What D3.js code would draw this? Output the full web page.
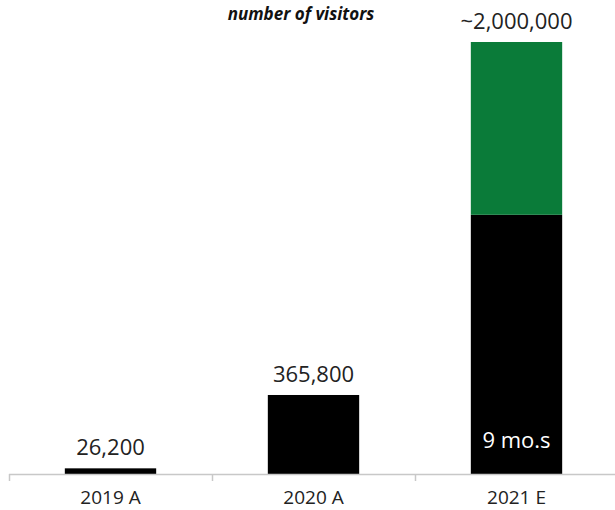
<!DOCTYPE html>
<html>
<head>
<meta charset="utf-8">
<script src="https://cdn.jsdelivr.net/npm/d3@7"></script>
<style>
  html, body { margin: 0; padding: 0; background: #fff; }
  svg { display: block; }
  text { font-family: "Open Sans", sans-serif; }
</style>
</head>
<body>
<div id="chart"></div>
<script>
var w = 615,
	h = 510;

// data
var categories = ["2019 A", "2020 A", "2021 E"];
var baseValues = [26200, 365800, 1200000];   // black part (actual / 9 months)
var extraValues = [0, 0, 800000];            // green part (rest of year estimate)
var totalLabels = ["26,200", "365,800", "~2,000,000"];
var innerLabels = ["", "", "9 mo.s"];

var svg = d3.select("#chart").append("svg")
	.attr("width", w)
	.attr("height", h);

var x = d3.scaleBand()
	.domain(categories)
	.range([9, 618])
	.paddingInner(0.55)
	.paddingOuter(0.275);

var y = d3.scaleLinear()
	.domain([0, 2000000])
	.range([474, 42]);

// title
svg.append("text")
	.attr("x", 301)
	.attr("y", 20)
	.attr("text-anchor", "middle")
	.attr("font-size", "17px")
	.attr("font-weight", "bold")
	.attr("font-style", "italic")
	.attr("fill", "#111")
	.text("number of visitors");

// bars
var rows = categories.map(function(c, i) {
	return {cat: c, base: baseValues[i], extra: extraValues[i], label: totalLabels[i], inner: innerLabels[i]};
});

svg.selectAll("rect.base")
	.data(rows)
	.enter()
	.append("rect")
	.attr("class", "base")
	.attr("x", function(d) { return x(d.cat); })
	.attr("width", x.bandwidth())
	.attr("y", function(d) { return y(d.base); })
	.attr("height", function(d) { return y(0) - y(d.base); })
	.attr("fill", "#000");

svg.selectAll("rect.extra")
	.data(rows.filter(function(d) { return d.extra > 0; }))
	.enter()
	.append("rect")
	.attr("class", "extra")
	.attr("x", function(d) { return x(d.cat); })
	.attr("width", x.bandwidth())
	.attr("y", function(d) { return y(d.base + d.extra); })
	.attr("height", function(d) { return y(d.base) - y(d.base + d.extra); })
	.attr("fill", "#0a7b39");

// value labels
svg.selectAll("text.total")
	.data(rows)
	.enter()
	.append("text")
	.attr("class", "total")
	.attr("x", function(d) { return x(d.cat) + x.bandwidth() / 2; })
	.attr("y", function(d) { return y(d.base + d.extra) - 13; })
	.attr("text-anchor", "middle")
	.attr("font-size", "22px")
	.attr("fill", "#222")
	.text(function(d) { return d.label; });

svg.selectAll("text.inner")
	.data(rows.filter(function(d) { return d.inner; }))
	.enter()
	.append("text")
	.attr("class", "inner")
	.attr("x", function(d) { return x(d.cat) + x.bandwidth() / 2; })
	.attr("y", y(0) - 26)
	.attr("text-anchor", "middle")
	.attr("font-size", "22px")
	.attr("fill", "#fff")
	.text(function(d) { return d.inner; });

// x axis: baseline, ticks between categories, labels centred
var axis = svg.append("g").attr("class", "x-axis");

axis.append("line")
	.attr("x1", x.range()[0])
	.attr("x2", x.range()[1])
	.attr("y1", y(0) + 0.5)
	.attr("y2", y(0) + 0.5)
	.attr("stroke", "#c8c8c8")
	.attr("stroke-width", 1.5);

var bounds = categories.map(function(c) { return x(c) - x.step() * x.paddingInner() / 2; });
bounds.push(x.range()[1]);

axis.selectAll("line.tick")
	.data(bounds)
	.enter()
	.append("line")
	.attr("class", "tick")
	.attr("x1", function(d) { return Math.round(d) + 0.5; })
	.attr("x2", function(d) { return Math.round(d) + 0.5; })
	.attr("y1", y(0))
	.attr("y2", y(0) + 7)
	.attr("stroke", "#c8c8c8")
	.attr("stroke-width", 1.5);

axis.selectAll("text")
	.data(categories)
	.enter()
	.append("text")
	.attr("x", function(d) { return x(d) + x.bandwidth() / 2; })
	.attr("y", 504)
	.attr("text-anchor", "middle")
	.attr("font-size", "19px")
	.attr("fill", "#222")
	.text(function(d) { return d; });
</script>
</body>
</html>
